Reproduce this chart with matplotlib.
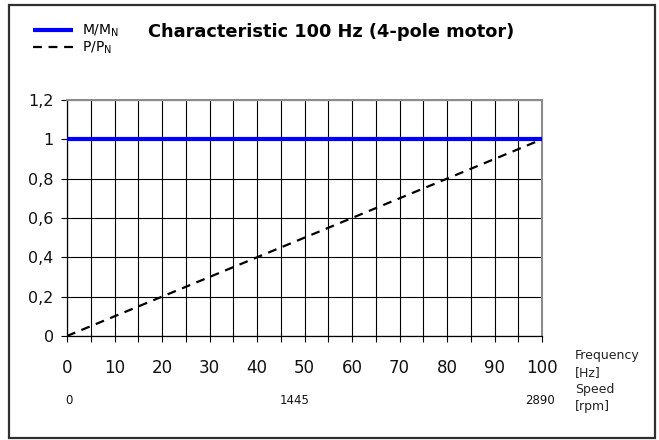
"""Motor characteristic at 100 Hz: torque and power ratio over frequency/speed."""

import matplotlib
matplotlib.use("Agg")
import matplotlib.pyplot as plt  # noqa: E402
from matplotlib.patches import Rectangle  # noqa: E402
import numpy as np  # noqa: E402

plt.rcParams["font.family"] = ["DejaVu Sans"]

# --- data ---
freq_hz = [0, 100]
torque_ratio = [1.0, 1.0]   # M/MN
power_ratio = [0.0, 1.0]    # P/PN
x_ticks = list(range(0, 101, 10))
y_ticks = [0, 0.2, 0.4, 0.6, 0.8, 1.0, 1.2]
y_tick_labels = ["0", "0,2", "0,4", "0,6", "0,8", "1", "1,2"]
speed_rpm = [0, 1445, 2890]
speed_nudge_hz = [0.5, -2.0, -0.5]

fig = plt.figure(figsize=(6.59, 4.40), dpi=100)
ax = fig.add_axes([0.1017, 0.2364, 0.7208, 0.5364])

ax.plot(freq_hz, torque_ratio, color="#0000ff", lw=3.0, solid_capstyle="butt",
        label=r"M/M$_\mathregular{N}$", zorder=4, clip_on=False)
ax.plot(freq_hz, power_ratio, color="black", lw=1.6, ls=(0, (4, 3)),
        label=r"P/P$_\mathregular{N}$", zorder=3)

ax.set_xlim(0, 100)
ax.set_ylim(0, 1.2)
ax.set_xticks(x_ticks)
ax.set_xticks(np.arange(0, 101, 5), minor=True)
ax.set_yticks(y_ticks)
ax.set_yticklabels(y_tick_labels)
ax.tick_params(axis="both", which="both", direction="out", length=4.5,
               width=0.8, color="black", labelsize=11.5, labelcolor="#111111")
ax.tick_params(axis="x", labelsize=12, pad=12)
ax.tick_params(axis="y", pad=5)
ax.grid(True, which="both", axis="x", color="black", lw=0.8)
ax.grid(True, which="major", axis="y", color="black", lw=0.8)
ax.set_axisbelow(True)
for side in ("top", "right"):
    ax.spines[side].set_color("#8c8c8c")
    ax.spines[side].set_linewidth(1.5)
for side in ("left", "bottom"):
    ax.spines[side].set_color("black")
    ax.spines[side].set_linewidth(0.9)

# speed scale under the frequency axis
for rpm, nudge in zip(speed_rpm, speed_nudge_hz):
    f = rpm / speed_rpm[-1] * freq_hz[-1] + nudge
    ax.annotate(str(rpm), xy=(f, 0), xycoords=("data", "axes fraction"),
                xytext=(0, -65), textcoords="offset pixels",
                ha="center", va="center", fontsize=8.5, color="#111111")

side_labels = ["Frequency", "[Hz]", "Speed", "[rpm]"]
for i, s in enumerate(side_labels):
    fig.text(575 / 659, 1 - (355 + 17.3 * i) / 440, s, ha="left", va="center",
             fontsize=9, color="#222222")

fig.text(148 / 659, 1 - 32 / 440, "Characteristic 100 Hz (4-pole motor)",
         ha="left", va="center", fontsize=12.8, fontweight="bold")

fig.legend(loc="upper left", bbox_to_anchor=(33 / 659, 1 - 23 / 440),
           frameon=False, fontsize=10, handlelength=2.9, handletextpad=0.6,
           labelspacing=0.0, borderpad=0, borderaxespad=0)

# outer frame
fig.patches.append(Rectangle((9 / 659, 1 - 438 / 440), 646 / 659, 433 / 440,
                             transform=fig.transFigure, fill=False,
                             edgecolor="#303030", lw=1.6))

fig.savefig("out.png", dpi=100)
plt.close(fig)
